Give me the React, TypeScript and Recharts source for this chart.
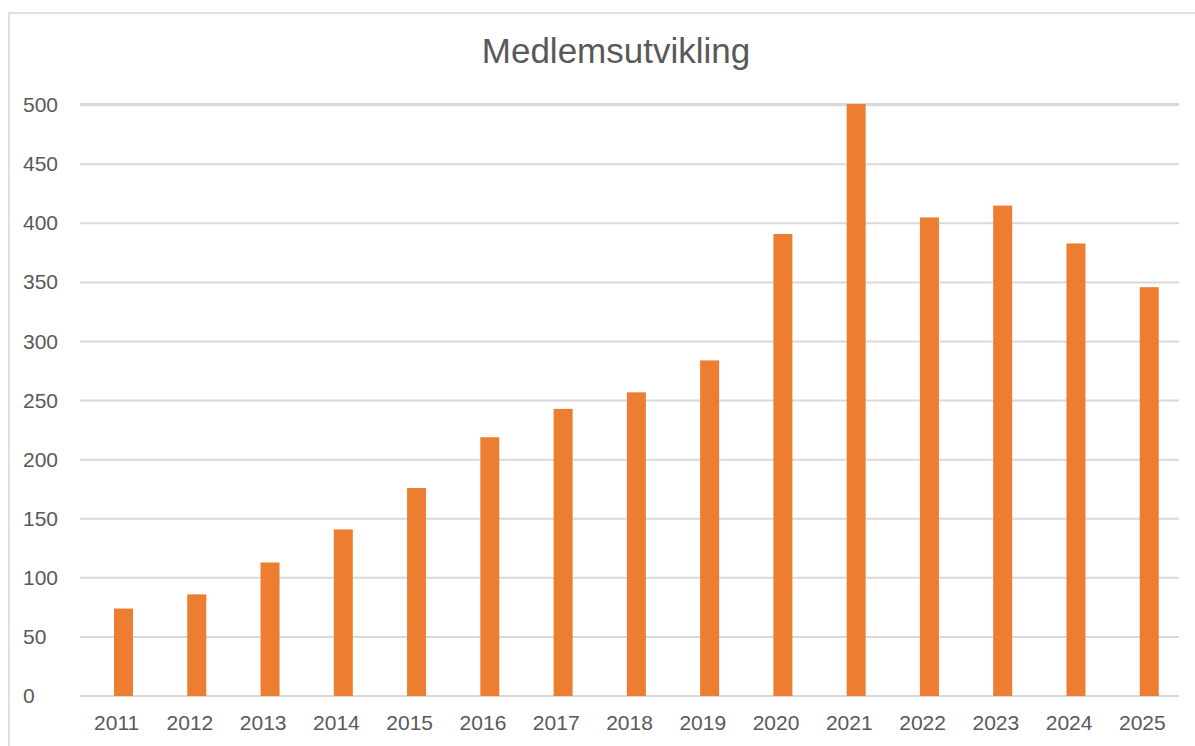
import { BarChart, Bar, XAxis, YAxis, CartesianGrid } from "recharts";

const years = [
  "2011", "2012", "2013", "2014", "2015", "2016", "2017", "2018",
  "2019", "2020", "2021", "2022", "2023", "2024", "2025",
];
const members = [74, 86, 113, 141, 176, 219, 243, 257, 284, 391, 501, 405, 415, 383, 346];
const yTicks = [0, 50, 100, 150, 200, 250, 300, 350, 400, 450, 500];

const data = years.map((year, i) => ({ year, members: members[i] }));

const FONT = "Helvetica, Arial, 'Liberation Sans', sans-serif";
const TEXT = "#595959";

function YTick(props: any) {
  return (
    <text x={23} y={props.y} dy={7} fill={TEXT} fontSize={21} fontFamily={FONT} textAnchor="start">
      {props.payload.value}
    </text>
  );
}

function XTick(props: any) {
  return (
    <text x={props.x} y={props.y} dy={26} fill={TEXT} fontSize={21} fontFamily={FONT} textAnchor="middle">
      {props.payload.value}
    </text>
  );
}

// bars sit a bit right of the category centre, like in the original
function ShiftedBar(props: any) {
  const { x, y, width, height, fill } = props;
  return <rect x={x + 7} y={y} width={width} height={height} fill={fill} />;
}

export default function App() {
  return (
    <div style={{ position: "fixed", left: 0, top: 0, width: 1195, height: 746, background: "#fff", overflow: "hidden" }}>
      <div
        style={{
          position: "absolute",
          left: 8,
          top: 12,
          width: 1220,
          height: 760,
          border: "2px solid #e0e0e0",
          boxSizing: "border-box",
        }}
      />
      <BarChart
        width={1195}
        height={746}
        data={data}
        margin={{ top: 104, right: 16, left: 0, bottom: 0 }}
        style={{ position: "absolute", left: 0, top: 0 }}
      >
        <text x={616} y={63} textAnchor="middle" fill={TEXT} fontSize={35} fontFamily={FONT}>
          Medlemsutvikling
        </text>
        <CartesianGrid vertical={false} stroke="#d9d9d9" strokeWidth={2} />
        <XAxis dataKey="year" axisLine={false} tickLine={false} height={50} tick={<XTick />} interval={0} />
        <YAxis
          domain={[0, 500]}
          ticks={yTicks}
          axisLine={false}
          tickLine={false}
          width={80}
          tick={<YTick />}
          interval={0}
        />
        <Bar dataKey="members" fill="#ED7D31" barSize={19} shape={<ShiftedBar />} isAnimationActive={false} />
      </BarChart>
    </div>
  );
}
